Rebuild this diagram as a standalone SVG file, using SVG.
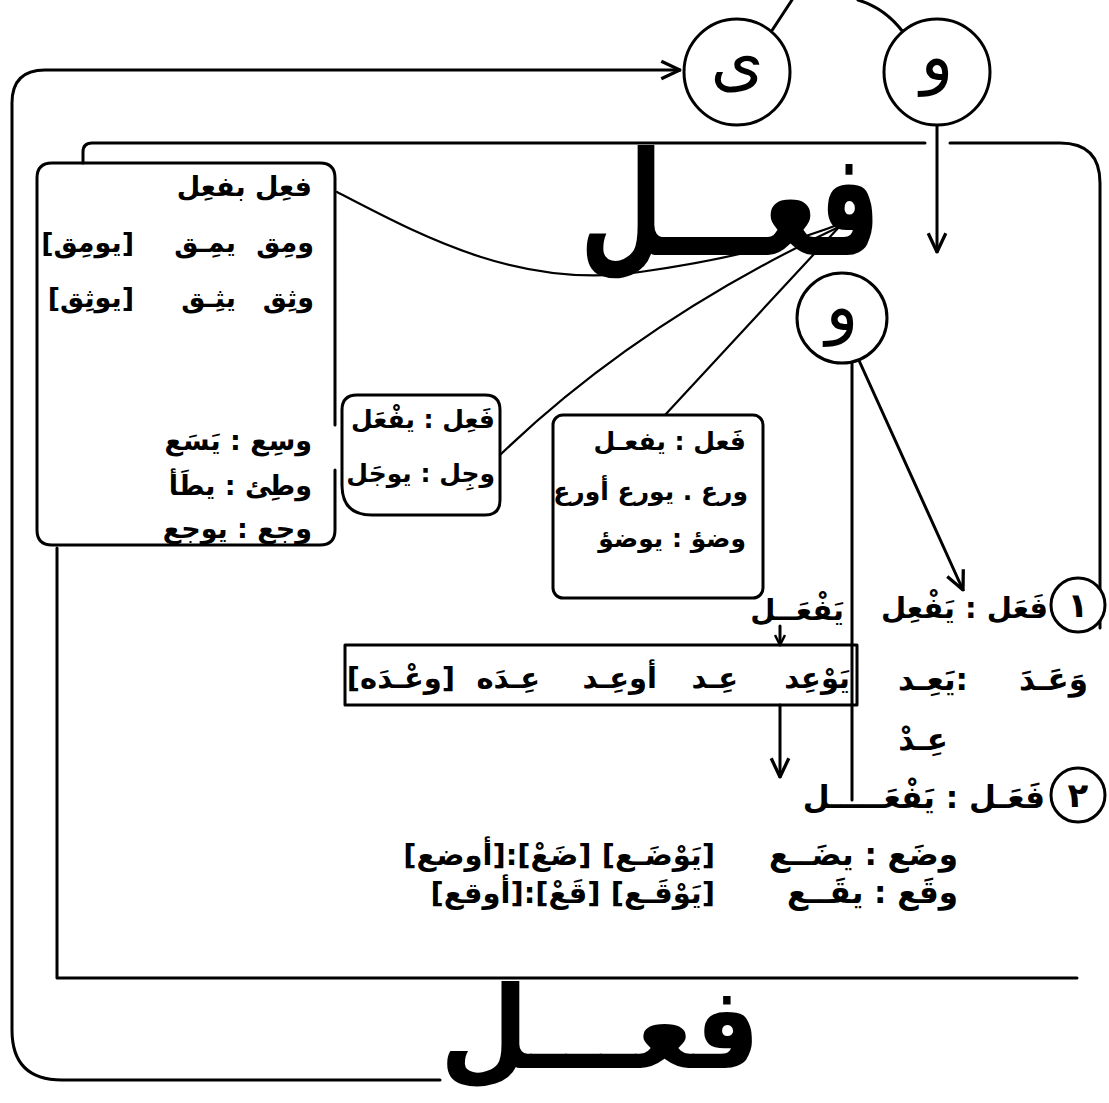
<svg xmlns="http://www.w3.org/2000/svg" width="1109" height="1103" viewBox="0 0 1109 1103">
<defs>
<style>
.ln{fill:none;stroke:#000;stroke-width:3;stroke-linecap:round;stroke-linejoin:round}
.th{fill:none;stroke:#000;stroke-width:2.2;stroke-linecap:round}
.ar{font-family:"DejaVu Sans",sans-serif;font-size:27px;font-weight:bold;fill:#000;direction:rtl}
.sm{font-size:25px}
.md{font-size:29px}
.lg{font-size:31px}
.big{font-family:"DejaVu Sans",sans-serif;font-weight:bold;fill:#000}
.cl{fill:#fff;stroke:#000;stroke-width:3}
.let{font-family:"DejaVu Sans",sans-serif;font-size:68px;fill:#000;text-anchor:middle}
.num{font-family:"DejaVu Sans",sans-serif;font-size:34px;font-weight:bold;fill:#000;text-anchor:middle}
</style>
<marker id="ah" viewBox="0 0 12 12" refX="11" refY="6" markerWidth="12" markerHeight="12" markerUnits="userSpaceOnUse" orient="auto">
<path d="M1,1 L11,6 L1,11" fill="none" stroke="#000" stroke-width="2.5"/>
</marker>
<marker id="ahb" viewBox="0 0 20 20" refX="19" refY="10" markerWidth="22" markerHeight="22" markerUnits="userSpaceOnUse" orient="auto">
<path d="M2,2 L19,10 L2,18" fill="none" stroke="#000" stroke-width="3"/>
</marker>
</defs>
<rect width="1109" height="1103" fill="#fff"/>

<g id="connectors">
<path class="ln" d="M440,1080 L62,1080 Q12,1080 12,1030 L12,103 Q12,70 45,70 L680,70" marker-end="url(#ahb)"/>
<path class="ln" d="M771,32 L792,0"/>
<path class="ln" d="M903,32 Q885,8 858,0"/>
<path class="ln" d="M83,163 L83,152 Q83,143 92,143 L925,143"/>
<path class="ln" d="M950,143 L1060,143 Q1100,143 1100,183 L1100,628"/>
<path class="ln" d="M937,125 L937,252" marker-end="url(#ahb)"/>
<path class="ln" d="M57,548 L57,978 L1077,978"/>
<path class="th" d="M337,192 C420,235 520,290 640,272 C740,258 800,240 845,222"/>
<path class="th" d="M845,224 Q640,320 500,455"/>
<path class="th" d="M840,226 L665,415"/>
<path class="ln" d="M852,345 L852,800"/>
<path class="ln" d="M852,345 L963,590" marker-end="url(#ahb)"/>
<path class="ln" d="M780,626 L780,645" marker-end="url(#ah)"/>
<path class="ln" d="M780,705 L780,777" marker-end="url(#ahb)"/>
</g>

<g id="circle-ya">
<circle class="cl" cx="737" cy="72" r="53"/>
<text class="let" x="737" y="84">ى</text>
</g>
<g id="circle-waw-top">
<circle class="cl" cx="937" cy="72" r="53"/>
<text class="let" x="937" y="80">و</text>
</g>
<g id="circle-waw">
<circle class="cl" cx="842" cy="318" r="45"/>
<text class="let" x="842" y="330" font-size="54">و</text>
</g>

<g id="title-top">
<text class="big" x="580" y="255" font-size="145" textLength="300" lengthAdjust="spacingAndGlyphs">فعـــل</text>
</g>

<g id="left-box">
<path class="ln" d="M335,470 L335,530 Q335,545 320,545 L52,545 Q37,545 37,530 L37,178 Q37,163 52,163 L320,163 Q335,163 335,178 L335,425"/>
<text class="ar" x="312" y="196">فعِل  بفعِل</text>
<text class="ar" x="314" y="252">ومِق</text>
<text class="ar" x="236" y="252">يمِـق</text>
<text class="ar" x="134" y="252">[يومِق]</text>
<text class="ar" x="314" y="307">وثِق</text>
<text class="ar" x="236" y="307">يثِـق</text>
<text class="ar" x="134" y="307">[يوثِق]</text>
<text class="ar" x="312" y="450">وسِع : يَسَع</text>
<text class="ar" x="312" y="495">وطِئ : يطَأ</text>
<text class="ar" x="312" y="538">وجع  :  يوجع</text>
</g>

<g id="middle-box">
<path class="ln" d="M357,395 L485,395 Q500,395 500,410 L500,500 Q500,515 485,515 L372,515 Q342,515 342,485 L342,410 Q342,395 357,395 Z"/>
<text class="ar sm" x="495" y="428">فَعِل : يفْعَل</text>
<text class="ar sm" x="495" y="482">وجِل : يوجَل</text>
</g>

<g id="right-box">
<rect class="ln" x="553" y="415" width="210" height="183" rx="10"/>
<text class="ar sm" x="746" y="450">فَعل : يفعـل</text>
<text class="ar sm" x="748" y="500">ورع . يورع أورع</text>
<text class="ar sm" x="746" y="547">وضؤ : يوضؤ</text>
</g>

<g id="row-1">
<circle class="cl" cx="1078" cy="605" r="27"/>
<text class="num" x="1078" y="617">١</text>
<text class="ar md" x="1048" y="618">فَعَل : يَفْعِل</text>
<text class="ar md" x="844" y="620">يَفْعَــل</text>
</g>

<g id="wa3ada-box">
<rect class="ln" x="345" y="645" width="512" height="60"/>
<text class="ar md" x="850" y="688">يَوْعِد</text>
<text class="ar md" x="738" y="688">عِـد</text>
<text class="ar md" x="657" y="688">أوعِـد</text>
<text class="ar md" x="540" y="688">عِـدَه</text>
<text class="ar md" x="455" y="688">[وعْـدَه]</text>
</g>

<g id="row-wa3ada">
<text class="ar lg" x="1088" y="690">وَعَـدَ</text>
<text class="ar lg" x="968" y="690">:يَعِـد</text>
<text class="ar lg" x="948" y="750">عِـدْ</text>
</g>

<g id="row-2">
<circle class="cl" cx="1078" cy="795" r="27"/>
<text class="num" x="1078" y="807">٢</text>
<text class="ar lg" x="1045" y="808">فَعَـل : يَفْعَـــــل</text>
<text class="ar lg" x="958" y="865">وضَع  :  يضَــع</text>
<text class="ar md" x="715" y="865">[يَوْضَـع] [ضَعْ]:[أوضع]</text>
<text class="ar lg" x="958" y="903">وقَع  :  يقَــع</text>
<text class="ar md" x="715" y="903">[يَوْقَـع] [قَعْ]:[أوقع]</text>
</g>

<g id="title-bottom">
<text class="big" x="440" y="1068" font-size="115" textLength="320" lengthAdjust="spacingAndGlyphs">فعـــل</text>
</g>
</svg>
